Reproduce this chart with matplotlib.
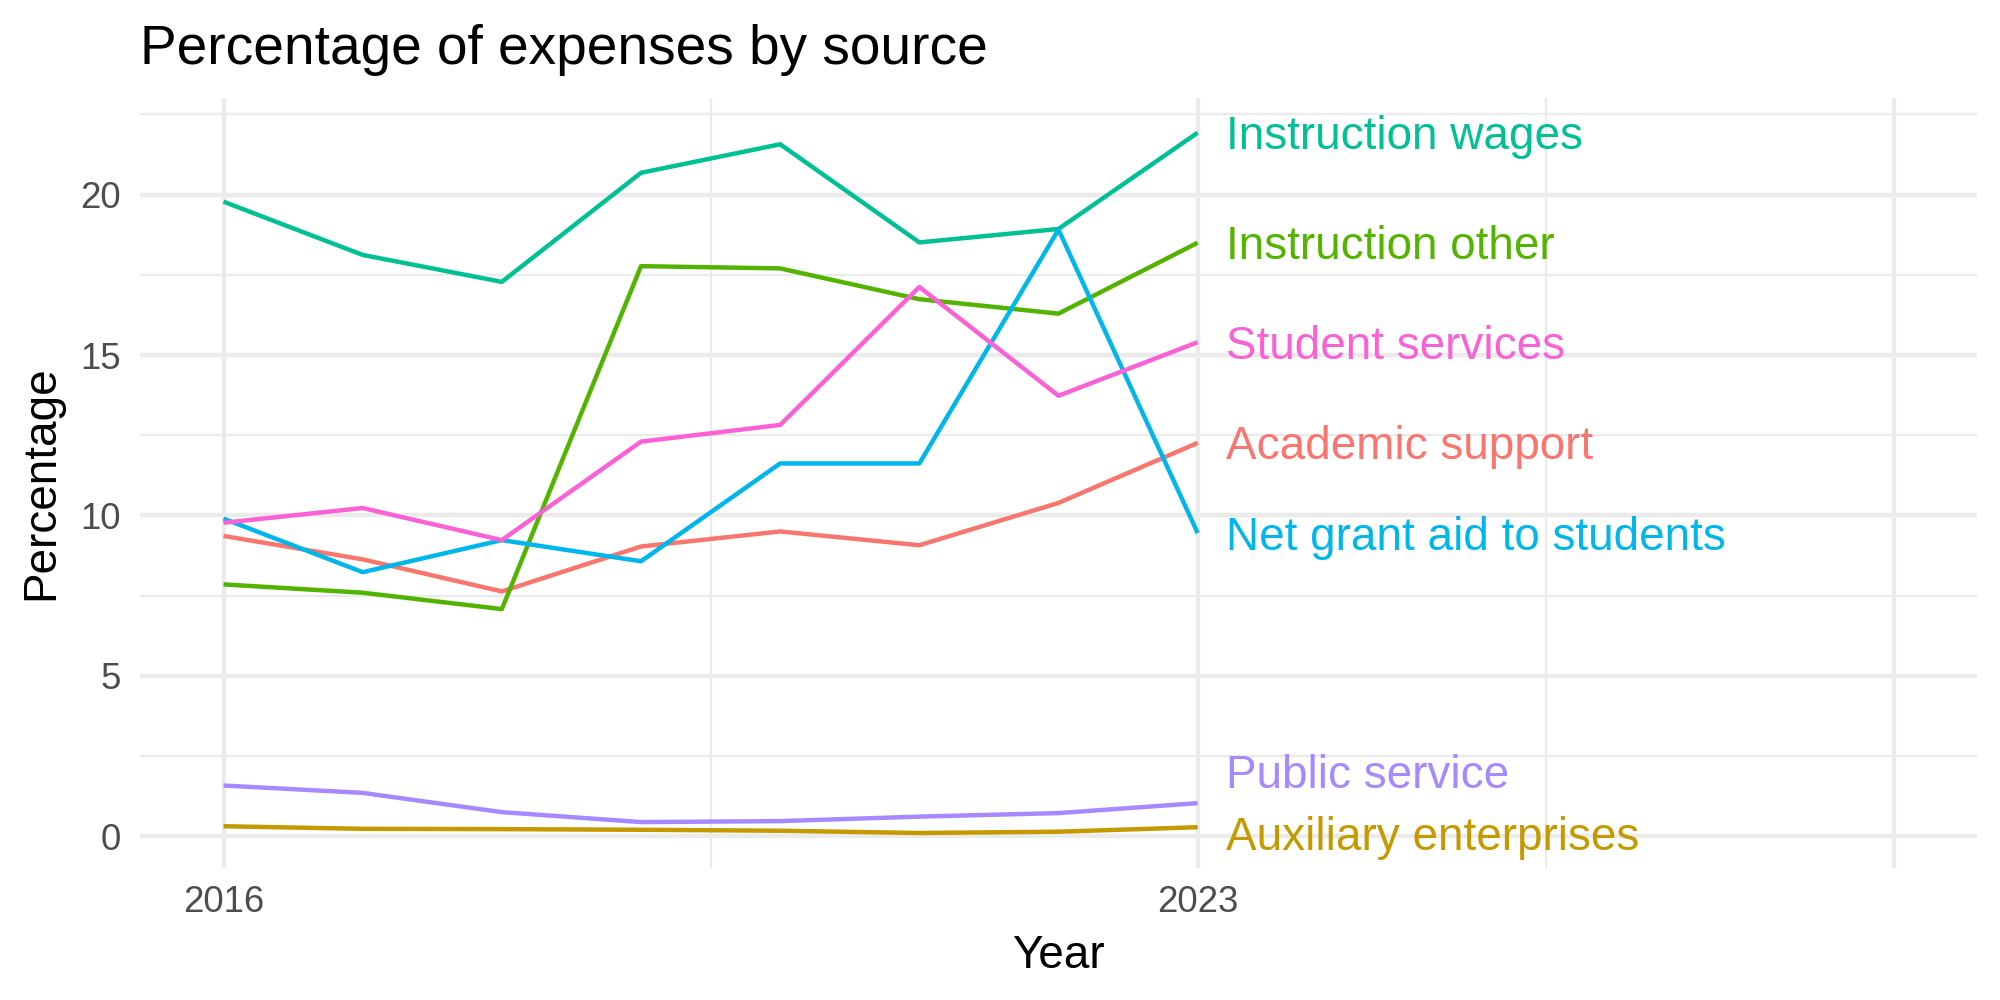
import matplotlib
matplotlib.use("Agg")
import matplotlib.pyplot as plt
import numpy as np

plt.rcParams['font.family'] = ['Liberation Sans', 'DejaVu Sans']

years = [2016, 2017, 2018, 2019, 2020, 2021, 2022, 2023]

sources = ["Academic support", "Auxiliary enterprises", "Instruction other",
           "Instruction wages", "Net grant aid to students", "Public service",
           "Student services"]

academic_support = [9.36, 8.63, 7.63, 9.03, 9.50, 9.07, 10.39, 12.26]
auxiliary_enterprises = [0.31, 0.23, 0.22, 0.20, 0.17, 0.10, 0.14, 0.28]
instruction_other = [7.85, 7.59, 7.08, 17.77, 17.70, 16.74, 16.29, 18.50]
instruction_wages = [19.78, 18.12, 17.28, 20.68, 21.57, 18.51, 18.93, 21.93]
net_grant_aid = [9.90, 8.23, 9.23, 8.57, 11.62, 11.62, 18.91, 9.45]
public_service = [1.58, 1.35, 0.75, 0.44, 0.47, 0.61, 0.72, 1.03]
student_services = [9.77, 10.23, 9.23, 12.30, 12.82, 17.12, 13.73, 15.40]

series = [academic_support, auxiliary_enterprises, instruction_other,
          instruction_wages, net_grant_aid, public_service, student_services]

# ggplot hue palette, alphabetical order
colors = ["#F8766D", "#C49A00", "#53B400", "#00C094", "#00B6EB", "#A58AFF", "#FB61D7"]

# labels that were pushed apart at the right edge (repel), in data units
label_shift = {"Public service": 1.0, "Auxiliary enterprises": -0.21}

fs_lab = 16.5
fig = plt.figure(figsize=(10, 5), dpi=200)
ax = fig.add_axes([0.07, 0.132, 0.9185, 0.7703])

for name, vals, col in zip(sources, series, colors):
    ax.plot(years, vals, color=col, linewidth=1.6, zorder=3,
            solid_capstyle='butt', solid_joinstyle='round')
    ly = vals[-1] + label_shift.get(name, 0.0)
    # centre the capitals on the value, like geom_text vjust=0.5
    ax.annotate(name, xy=(years[-1] + 0.2, ly), xytext=(0, -0.36 * fs_lab),
                textcoords='offset points', ha='left', va='baseline',
                color=col, fontsize=fs_lab, zorder=4)

# x scale like ggplot: limits 2016..2028 with 5% expansion
x_lo, x_hi = 2016, 2028
pad = (x_hi - x_lo) * 0.05
ax.set_xlim(x_lo - pad, x_hi + pad)
ax.set_xticks([2016, 2023, 2028])
ax.set_xticklabels(["2016", "2023", ""])
ax.set_xticks([2019.5, 2025.5], minor=True)

ax.margins(y=0.05)
ax.set_yticks([0, 5, 10, 15, 20])
ax.set_yticks([2.5, 7.5, 12.5, 17.5, 22.5], minor=True)

ax.grid(which='major', color='#EBEBEB', linewidth=1.6, zorder=0)
ax.grid(which='minor', color='#EBEBEB', linewidth=0.8, zorder=0)
ax.set_axisbelow(True)
for s in ax.spines.values():
    s.set_visible(False)
ax.tick_params(which='both', length=0)
ax.tick_params(axis='y', labelsize=13.2, labelcolor='#4D4D4D', pad=7)
ax.tick_params(axis='x', labelsize=13.2, labelcolor='#4D4D4D', pad=6)

ax.set_xlabel("Year", fontsize=16.5, labelpad=5)
ax.set_ylabel("Percentage", fontsize=16.5, labelpad=6)
ax.set_title("Percentage of expenses by source", fontsize=19.8, loc='left', pad=12)

fig.savefig("out.png", dpi=200)
